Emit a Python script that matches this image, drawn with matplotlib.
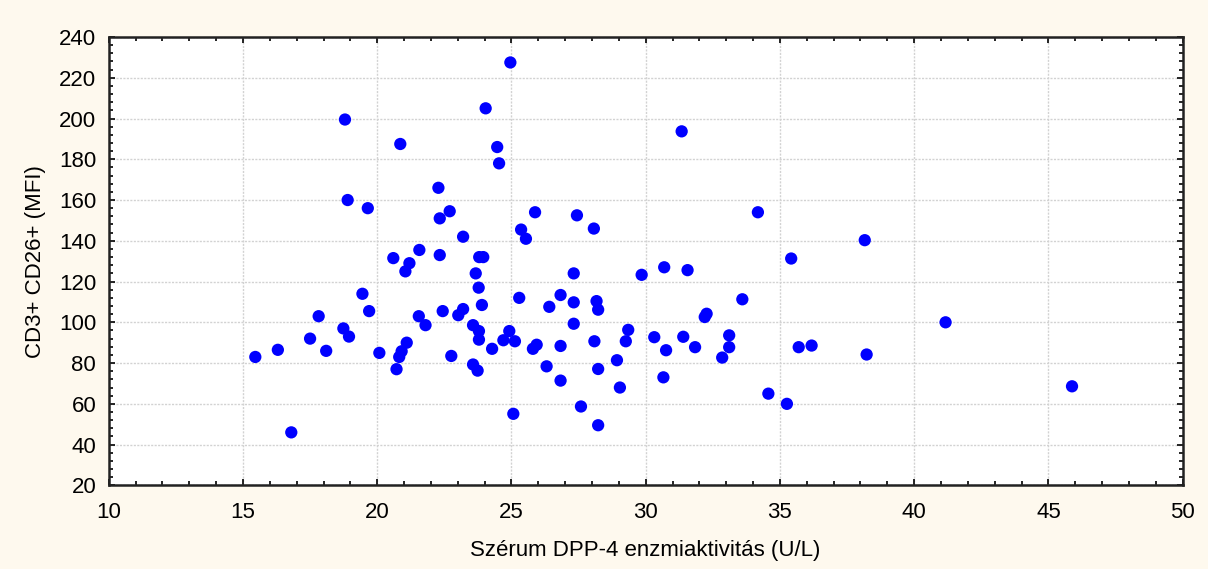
import numpy as np
import matplotlib
matplotlib.use("Agg")
import matplotlib.pyplot as plt
from matplotlib.ticker import MultipleLocator

# Serum DPP-4 activity (U/L) vs CD3+ CD26+ (MFI)
dpp4 = [15.46, 16.3, 16.8, 17.5, 17.82, 18.1, 18.74, 18.8, 18.9, 18.95,
        19.45, 19.65, 19.7, 20.08, 20.6, 20.72, 20.82, 20.86, 20.91, 21.05,
        21.1, 21.2, 21.55, 21.57, 21.8, 22.28, 22.33, 22.33, 22.44, 22.7,
        22.76, 23.02, 23.2, 23.2, 23.57, 23.57, 23.67, 23.74, 23.78, 23.79,
        23.79, 23.8, 23.9, 23.95, 24.04, 24.28, 24.47, 24.54, 24.7, 24.92,
        24.96, 25.07, 25.13, 25.29, 25.36, 25.54, 25.8, 25.88, 25.94, 26.31,
        26.41, 26.83, 26.83, 26.83, 27.32, 27.32, 27.32, 27.44, 27.59, 28.07,
        28.09, 28.17, 28.23, 28.23, 28.23, 28.93, 29.04, 29.26, 29.35, 29.85,
        30.32, 30.66, 30.69, 30.76, 31.34, 31.4, 31.56, 31.84, 32.2, 32.27,
        32.85, 33.11, 33.11, 33.6, 34.18, 34.57, 35.26, 35.42, 35.7, 36.18,
        38.16, 38.23, 41.17, 45.88]
cd26 = [83, 86.5, 46, 92, 103, 86, 97, 199.5, 160, 93,
        114, 156, 105.5, 85, 131.5, 77, 83, 187.5, 85.8, 125,
        90, 129, 103, 135.5, 98.6, 166, 151, 133, 105.5, 154.5,
        83.5, 103.5, 142, 106.5, 98.6, 79.3, 124, 76.3, 117, 95.7,
        91.5, 132, 108.5, 132, 205, 87, 186, 178, 91.2, 95.7,
        227.5, 55.1, 90.7, 112, 145.5, 141, 87, 154, 89, 78.4,
        107.6, 113.4, 88.4, 71.4, 124, 109.8, 99.3, 152.5, 58.7, 146,
        90.7, 110.4, 106.2, 77.1, 49.5, 81.4, 68, 90.7, 96.3, 123.3,
        92.7, 73, 127, 86.3, 193.7, 92.9, 125.6, 87.8, 102.6, 104.2,
        82.7, 93.6, 87.8, 111.3, 154, 65, 60, 131.3, 87.8, 88.6,
        140.3, 84.2, 100, 68.6]

plt.rcParams['font.family'] = ['Liberation Sans', 'DejaVu Sans']

fig = plt.figure(figsize=(12.08, 5.69), dpi=100, facecolor='#fef9ee')
ax = fig.add_axes([0.09, 0.147, 0.889, 0.788])
ax.set_facecolor('white')

ax.scatter(dpp4, cd26, s=78, color='#0000ff', edgecolors='none', zorder=3)

ax.set_xlim(10, 50)
ax.set_ylim(20, 240)
ax.xaxis.set_major_locator(MultipleLocator(5))
ax.xaxis.set_minor_locator(MultipleLocator(1))
ax.yaxis.set_major_locator(MultipleLocator(20))
ax.yaxis.set_minor_locator(MultipleLocator(4))

# light dotted grid at the major ticks only
ax.grid(True, which='major', color='#d2d2d2', linestyle=(0, (1.5, 1)), linewidth=1.0, zorder=0)
ax.tick_params(which='both', direction='in', top=True, right=True, colors='black',
               labelsize=16, width=1.2)
ax.tick_params(which='major', length=4, pad=9)
ax.tick_params(which='minor', length=3)
ax.tick_params(axis='x', which='major', pad=12)
for s in ax.spines.values():
    s.set_linewidth(1.8)
    s.set_color('#222222')

ax.set_xlabel('Szérum DPP-4 enzmiaktivitás (U/L)', fontsize=16, labelpad=12)
ax.set_ylabel('CD3+ CD26+ (MFI)', fontsize=16, labelpad=9)

fig.savefig('out.png', dpi=100, facecolor=fig.get_facecolor())
